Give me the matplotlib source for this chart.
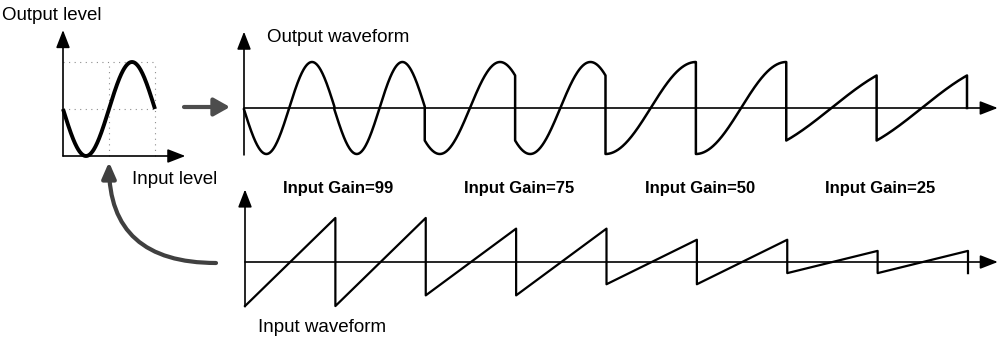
import numpy as np
import matplotlib
matplotlib.use("Agg")
import matplotlib.pyplot as plt
from matplotlib.patches import FancyArrowPatch

plt.rcParams['font.family'] = ['Liberation Sans', 'DejaVu Sans']

W, H = 1001, 338

# input gain of each pair of sawtooth periods
gains = [99, 75, 50, 25]
periods_per_gain = 2
n_pts = 200

# waveshaper table: output level for an input level in 0..1
def shaper(level):
    return 0.5 - 0.5 * np.sin(2 * np.pi * level)


fig = plt.figure(figsize=(W / 100, H / 100), dpi=100)


def px_axes(x0, y0, sx, sy, xlim, ylim):
    """Axes whose data origin sits at pixel (x0, y0), sx/sy pixels per unit."""
    left = x0 + xlim[0] * sx
    right = x0 + xlim[1] * sx
    top = y0 - ylim[1] * sy
    bottom = y0 - ylim[0] * sy
    ax = fig.add_axes([left / W, 1 - bottom / H, (right - left) / W, (bottom - top) / H])
    ax.set_xlim(xlim)
    ax.set_ylim(ylim)
    ax.axis('off')
    return ax


def arrow_axis(ax, start, end, lw=1.2):
    ax.annotate('', xy=end, xytext=start,
                arrowprops=dict(arrowstyle='-|>,head_length=0.9,head_width=0.35',
                                lw=lw, color='black', shrinkA=0, shrinkB=0,
                                mutation_scale=12))


# overlay in pixel units for the labels and grey flow arrows
ann = fig.add_axes([0, 0, 1, 1])
ann.set_xlim(0, W)
ann.set_ylim(H, 0)
ann.axis('off')

# --- transfer curve ---
ax_tf = px_axes(63, 156, 92, 94, (-0.05, 1.4), (-0.06, 1.4))
level = np.linspace(0, 1, n_pts)
for y in (0.5, 1.0):
    ax_tf.plot([0, 1], [y, y], ls=(0, (1, 4)), color='0.55', lw=0.8)
for x in (0.5, 1.0):
    ax_tf.plot([x, x], [0, 1], ls=(0, (1, 4)), color='0.55', lw=0.8)
ax_tf.plot(level, shaper(level), color='black', lw=2.8, solid_capstyle='butt')
arrow_axis(ax_tf, (0, 0), (1.33, 0))
arrow_axis(ax_tf, (0, 0), (0, 1.34))

# --- input sawtooth and shaped output ---
t_in, v_in, t_out, v_out = [], [], [], []
for i, g in enumerate(gains):
    amp = g / 100
    for p in range(periods_per_gain):
        frac = np.linspace(0, 1, n_pts)
        t = i * periods_per_gain + p + frac
        saw = amp * (2 * frac - 1)
        t_in.append(t)
        v_in.append(saw)
        t_out.append(t)
        v_out.append(2 * shaper(0.5 + 0.5 * saw) - 1)
t_end = len(gains) * periods_per_gain
t_in.append([t_end])
v_in.append([-gains[-1] / 100])
t_out.append([t_end])
v_out.append([0.0])
t_in = np.concatenate(t_in)
v_in = np.concatenate(v_in)
t_out = np.concatenate(t_out)
v_out = np.concatenate(v_out)

ax_out = px_axes(244, 108, 90.375, 46, (-0.1, 8.45), (-1.2, 1.8))
ax_out.plot(t_out, v_out, color='black', lw=1.8)
arrow_axis(ax_out, (0, 0), (8.34, 0))
arrow_axis(ax_out, (0, -1.02), (0, 1.66))
ax_out.text(0.26, 1.53, 'Output waveform', fontsize=13.5, ha='left', va='center')

ax_in = px_axes(245, 262, 90.375, 44.5, (-0.1, 8.45), (-1.2, 1.9))
ax_in.plot(t_in, v_in, color='black', lw=1.6)
arrow_axis(ax_in, (0, 0), (8.33, 0))
arrow_axis(ax_in, (0, -1.0), (0, 1.63))
for i, g in enumerate(gains):
    ax_in.text(i * periods_per_gain + periods_per_gain / 2 + 0.03, 1.66, f'Input Gain={g}',
               fontsize=12, fontweight='bold', ha='center', va='center')

# --- labels and grey flow arrows ---
ann.text(2, 16, 'Output level', fontsize=13.5, ha='left', va='center')
ann.text(132, 180, 'Input level', fontsize=13.5, ha='left', va='center')
ann.text(258, 328, 'Input waveform', fontsize=13.5, ha='left', va='center')

ann.add_patch(FancyArrowPatch((184, 107), (230, 107),
                              arrowstyle='-|>,head_length=0.8,head_width=0.45',
                              mutation_scale=12, lw=3.0, color='0.3',
                              shrinkA=0, shrinkB=0))
ann.add_patch(FancyArrowPatch((216, 263), (109, 162),
                              connectionstyle='angle3,angleA=0,angleB=90',
                              arrowstyle='-|>,head_length=0.8,head_width=0.35',
                              mutation_scale=12, lw=3.0, color='0.25',
                              shrinkA=0, shrinkB=0))

fig.savefig('out.png', dpi=100)
